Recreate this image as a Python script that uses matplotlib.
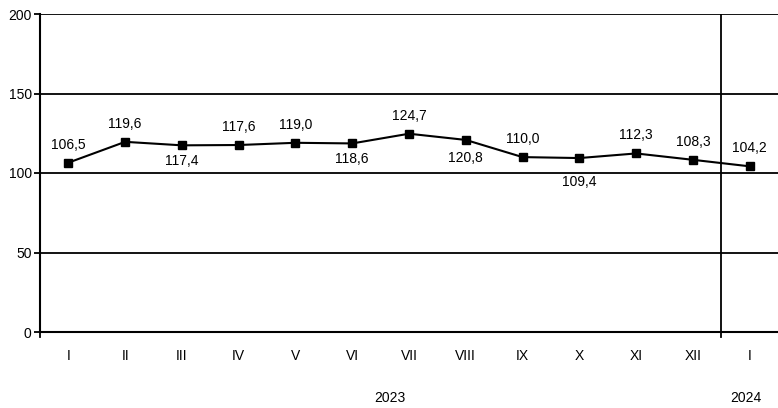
import matplotlib.pyplot as plt

plt.rcParams['font.family'] = ['Liberation Sans', 'DejaVu Sans']

months = ["I", "II", "III", "IV", "V", "VI", "VII", "VIII", "IX", "X", "XI", "XII", "I"]
values = [106.5, 119.6, 117.4, 117.6, 119.0, 118.6, 124.7, 120.8, 110.0, 109.4, 112.3, 108.3, 104.2]
years = ["2023", "2024"]

# label offsets in points (positive = above the marker)
label_offsets = [8, 8, -6, 8, 8, -6, 8, -8, 8, -12, 8, 8, 8]

fs = 10

fig = plt.figure(figsize=(7.78, 4.08), dpi=100)
ax = fig.add_axes([40 / 778, 1 - 332 / 408, 738 / 778, 318 / 408])

x = list(range(len(months)))
ax.plot(x, values, color="black", lw=1.5, marker="s", ms=5.5, zorder=3, clip_on=False)

for xi, v, off in zip(x, values, label_offsets):
    txt = f"{v:.1f}".replace(".", ",")
    ax.annotate(txt, (xi, v), xytext=(0, off), textcoords="offset points",
                ha="center", va="bottom" if off > 0 else "top", fontsize=fs,
                zorder=4)

ax.set_xlim(-0.5, len(months) - 0.5)
ax.set_ylim(0, 200)
ax.set_yticks([0, 50, 100, 150, 200])
for y in [50, 100, 150, 200]:
    ax.axhline(y, color="black", lw=1.3, zorder=1)

# divider between years
ax.axvline(11.5, color="black", lw=1.3, zorder=1)
ax.plot([11.5, 11.5], [0, -3], color="black", lw=1.3, clip_on=False)

ax.set_xticks(x)
ax.set_xticklabels(months, fontsize=fs)
ax.tick_params(axis="x", length=0, pad=12)
ax.tick_params(axis="y", length=4, width=1.3, labelsize=fs, pad=2)

for s in ["top", "right"]:
    ax.spines[s].set_visible(False)
ax.spines["left"].set_linewidth(1.5)
ax.spines["bottom"].set_linewidth(1.5)
ax.plot([-0.5, -0.5], [0, -3], color="black", lw=1.3, clip_on=False)

fig.text(390 / 778, 1 - 398 / 408, years[0], ha="center", va="center", fontsize=fs)
fig.text(746 / 778, 1 - 398 / 408, years[1], ha="center", va="center", fontsize=fs)

fig.savefig("out.png", dpi=100)
